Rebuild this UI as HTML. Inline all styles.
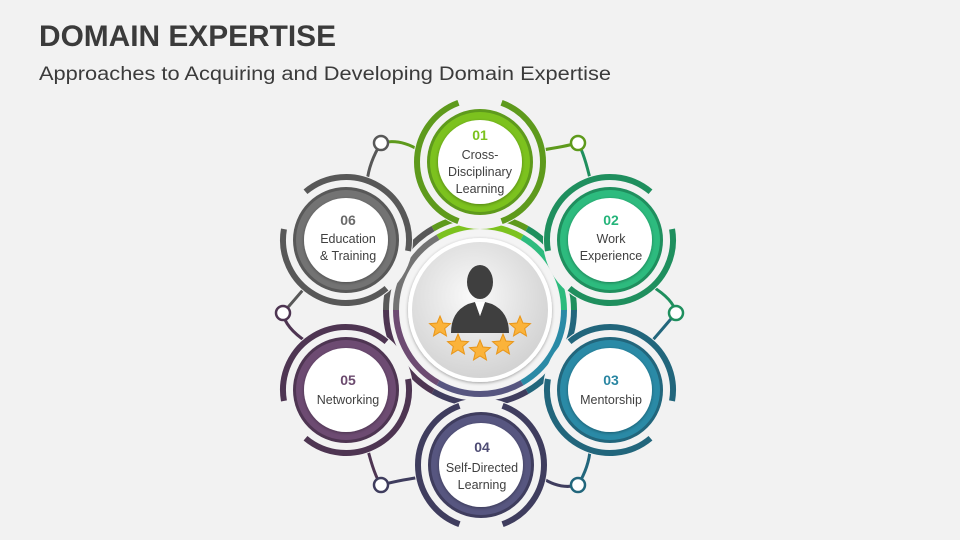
<!DOCTYPE html>
<html><head><meta charset="utf-8"><style>
body{margin:0;background:#f2f2f2;}
svg{display:block}
</style></head><body>
<svg id="s" width="960" height="540" viewBox="0 0 960 540" xmlns="http://www.w3.org/2000/svg">
<defs>
<radialGradient id="g" cx="45%" cy="40%" r="60%"><stop offset="0" stop-color="#fafafa"/><stop offset="1" stop-color="#d2d2d2"/></radialGradient>
<filter id="sh" x="-20%" y="-20%" width="140%" height="140%"><feDropShadow dx="0" dy="1" stdDeviation="1.5" flood-opacity="0.35"/></filter>
</defs>
<rect width="960" height="540" fill="#f2f2f2"/>
<g id="shapes"></g>
<text x="39" y="46" font-family="Liberation Sans, sans-serif" font-weight="bold" font-size="30" fill="#3b3b3b" textLength="297" lengthAdjust="spacingAndGlyphs">DOMAIN EXPERTISE</text>
<text x="39" y="80" font-family="Liberation Sans, sans-serif" font-size="19" fill="#3b3b3b" textLength="572" lengthAdjust="spacingAndGlyphs">Approaches to Acquiring and Developing Domain Expertise</text>
<g id="labels" font-family="Liberation Sans, sans-serif" font-size="12.5" fill="#404040" text-anchor="middle">
<text x="480" y="140" font-weight="bold" font-size="14" fill="#7cc21e">01</text>
<text x="480" y="159">Cross-</text><text x="480" y="176">Disciplinary</text><text x="480" y="193">Learning</text>
<text x="611" y="225" font-weight="bold" font-size="14" fill="#25b47a">02</text>
<text x="611" y="243">Work</text><text x="611" y="260">Experience</text>
<text x="611" y="385" font-weight="bold" font-size="14" fill="#2a86a2">03</text>
<text x="611" y="404">Mentorship</text>
<text x="482" y="452" font-weight="bold" font-size="14" fill="#4e4c74">04</text>
<text x="482" y="472">Self-Directed</text><text x="482" y="489">Learning</text>
<text x="348" y="225" font-weight="bold" font-size="14" fill="#6a6a6a">06</text>
<text x="348" y="243">Education</text><text x="348" y="260">&amp; Training</text>
<text x="348" y="385" font-weight="bold" font-size="14" fill="#6b4a6e">05</text>
<text x="348" y="404">Networking</text>
</g>
</svg>
<script>
const NS="http://www.w3.org/2000/svg",G=document.getElementById('shapes');
function el(t,a){const e=document.createElementNS(NS,t);for(const k in a)e.setAttribute(k,a[k]);G.appendChild(e);return e;}
function pt(cx,cy,r,a){a=a*Math.PI/180;return [cx+r*Math.cos(a),cy+r*Math.sin(a)];}
function arc(cx,cy,r,a1,a2,col,w){const p=pt(cx,cy,r,a1),q=pt(cx,cy,r,a2);const l=(a2-a1)>180?1:0;
 el('path',{d:`M${p[0]} ${p[1]} A${r} ${r} 0 ${l} 1 ${q[0]} ${q[1]}`,fill:'none',stroke:col,'stroke-width':w});}
const C=[480,310];
const nodes=[
 {x:480,y:162,a:-90,c:'#7cc21e',d:'#5e9a1c'},
 {x:610,y:240,a:-30,c:'#2dbb7e',d:'#1f8f5e'},
 {x:610,y:390,a:30,c:'#2a8aa6',d:'#22667c'},
 {x:481,y:465,a:90,c:'#575680',d:'#3f3d5e'},
 {x:346,y:390,a:150,c:'#6d4b72',d:'#4e3552'},
 {x:346,y:240,a:210,c:'#737373',d:'#585858'}];
const small=[[381,143],[578,143],[676,313],[578,485],[381,485],[283,313]];
for(let i=0;i<6;i++){
 const s=small[(i+1)%6];const n1=nodes[i],n2=nodes[(i+1)%6];
 const a1=Math.atan2(s[1]-n1.y,s[0]-n1.x)*180/Math.PI, a2=Math.atan2(s[1]-n2.y,s[0]-n2.x)*180/Math.PI;
 const p1=pt(n1.x,n1.y,62,a1),p2=pt(n2.x,n2.y,62,a2);
 el('path',{d:`M${p1[0]} ${p1[1]} Q${(p1[0]+s[0])/2+(s[0]-C[0])*0.05} ${(p1[1]+s[1])/2} ${s[0]} ${s[1]}`,fill:'none',stroke:n1.d,'stroke-width':3});
 el('path',{d:`M${p2[0]} ${p2[1]} Q${(p2[0]+s[0])/2} ${(p2[1]+s[1])/2+(s[1]-C[1])*0.05} ${s[0]} ${s[1]}`,fill:'none',stroke:n2.d,'stroke-width':3});
}
small.forEach((s,i)=>{const n=nodes[(i+5)%6];el('circle',{cx:s[0],cy:s[1],r:7,fill:'#fff',stroke:n.d,'stroke-width':2.5});});
nodes.forEach(n=>{el('line',{x1:n.x,y1:n.y,x2:C[0],y2:C[1],stroke:n.d,'stroke-width':22});});
el('circle',{cx:C[0],cy:C[1],r:98,fill:'#f2f2f2'});
nodes.forEach(n=>{arc(C[0],C[1],94,n.a-30,n.a+30,n.d,6);arc(C[0],C[1],84,n.a-30,n.a+30,n.c,6);});
el('circle',{cx:C[0],cy:C[1],r:80,fill:'#f4f4f4'});
el('circle',{cx:C[0],cy:C[1],r:70,fill:'url(#g)',stroke:'#ffffff','stroke-width':4,filter:'url(#sh)'});
el('path',{d:'M451 333 Q451 312 468 304 L475 302 L480 316 L485 302 L492 304 Q509 312 509 333 Z',fill:'#3f3f3f'});
el('path',{d:'M475 302 L480 316 L485 302 Z',fill:'#fff'});
el('ellipse',{cx:480,cy:282,rx:13,ry:17,fill:'#3f3f3f'});
function star(cx,cy,r){let d='';for(let i=0;i<10;i++){const rr=i%2?r*0.45:r;const a=-90+i*36;const p=pt(cx,cy,rr,a);d+=(i?'L':'M')+p[0]+' '+p[1];}
 el('path',{d:d+'Z',fill:'#fbb33a',stroke:'#e8961a','stroke-width':1});}
[[440,327],[458,345],[480,351],[503,345],[520,327]].forEach(p=>star(p[0],p[1],11));
nodes.forEach(n=>{
 el('circle',{cx:n.x,cy:n.y,r:67,fill:'#f2f2f2'});
 arc(n.x,n.y,63,n.a+20,n.a+160,n.d,6);
 arc(n.x,n.y,63,n.a+200,n.a+340,n.d,6);
 el('circle',{cx:n.x,cy:n.y,r:53,fill:n.d});
 el('circle',{cx:n.x,cy:n.y,r:50,fill:n.c});
 el('circle',{cx:n.x,cy:n.y,r:42,fill:'#fff',filter:'url(#sh)'});
});
document.getElementById('s').appendChild(document.getElementById('labels'));
</script>
</body></html>
